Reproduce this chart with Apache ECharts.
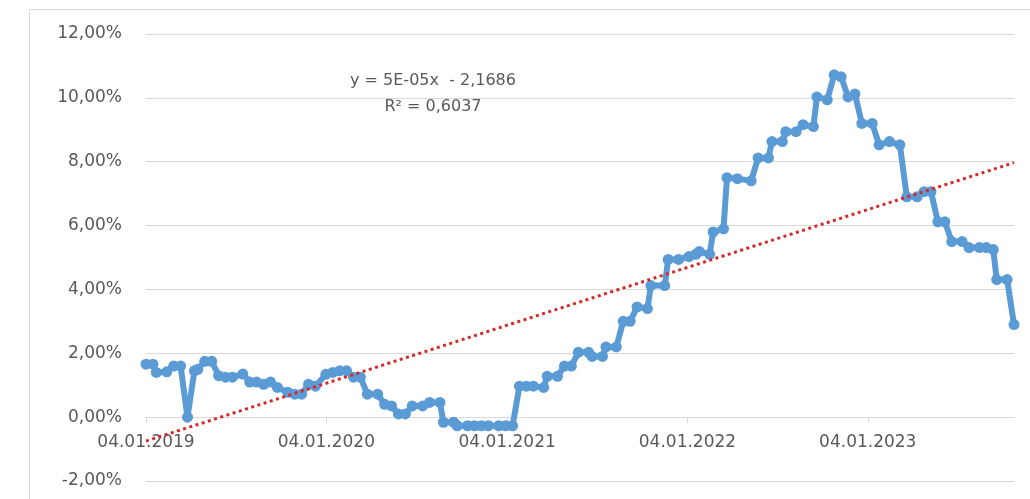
<!DOCTYPE html>
<html>
<head>
<meta charset="utf-8">
<script src="https://cdn.jsdelivr.net/npm/echarts@6/dist/echarts.min.js"></script>
<style>
  html, body { margin: 0; padding: 0; background: #fff; }
  #chart { width: 1030px; height: 499px; }
</style>
</head>
<body>
<div id="chart"></div>
<script>
// weekly observations (Fridays), values in %
const dates = [
  '2019-01-04', '2019-01-18', '2019-01-25', '2019-02-15', '2019-03-01', '2019-03-15', '2019-03-29', '2019-04-12',
  '2019-04-19', '2019-05-03', '2019-05-17', '2019-05-31', '2019-06-14', '2019-06-28', '2019-07-19', '2019-08-02',
  '2019-08-16', '2019-08-30', '2019-09-13', '2019-09-27', '2019-10-18', '2019-11-01', '2019-11-15', '2019-11-29',
  '2019-12-13', '2020-01-03', '2020-01-17', '2020-01-31', '2020-02-14', '2020-02-28', '2020-03-13', '2020-03-27',
  '2020-04-17', '2020-05-01', '2020-05-15', '2020-05-29', '2020-06-12', '2020-06-26', '2020-07-17', '2020-07-31',
  '2020-08-21', '2020-08-28', '2020-09-18', '2020-09-25', '2020-10-16', '2020-10-30', '2020-11-13', '2020-11-27',
  '2020-12-18', '2021-01-01', '2021-01-15', '2021-01-29', '2021-02-12', '2021-02-26', '2021-03-19', '2021-03-26',
  '2021-04-16', '2021-04-30', '2021-05-14', '2021-05-28', '2021-06-18', '2021-06-25', '2021-07-16', '2021-07-23',
  '2021-08-13', '2021-08-27', '2021-09-10', '2021-09-24', '2021-10-15', '2021-10-22', '2021-11-19', '2021-11-26',
  '2021-12-17', '2022-01-07', '2022-01-21', '2022-01-28', '2022-02-18', '2022-02-25', '2022-03-18', '2022-03-25',
  '2022-04-15', '2022-05-13', '2022-05-27', '2022-06-17', '2022-06-24', '2022-07-15', '2022-07-22', '2022-08-12',
  '2022-08-26', '2022-09-16', '2022-09-23', '2022-10-14', '2022-10-28', '2022-11-11', '2022-11-25', '2022-12-09',
  '2022-12-23', '2023-01-13', '2023-01-27', '2023-02-17', '2023-03-10', '2023-03-24', '2023-04-14', '2023-04-28',
  '2023-05-12', '2023-05-26', '2023-06-09', '2023-06-23', '2023-07-14', '2023-07-28', '2023-08-18', '2023-09-01',
  '2023-09-15', '2023-09-22', '2023-10-13', '2023-10-27'
];
const rates = [
  1.66, 1.66, 1.40, 1.42, 1.60, 1.60, 0.00, 1.45,
  1.50, 1.75, 1.75, 1.30, 1.25, 1.25, 1.35, 1.10,
  1.10, 1.03, 1.10, 0.93, 0.78, 0.72, 0.72, 1.03,
  0.97, 1.34, 1.40, 1.45, 1.45, 1.25, 1.25, 0.72,
  0.72, 0.40, 0.35, 0.10, 0.10, 0.35, 0.35, 0.46,
  0.46, -0.16, -0.16, -0.27, -0.27, -0.27, -0.27, -0.27,
  -0.27, -0.27, -0.27, 0.97, 0.97, 0.97, 0.93, 1.28,
  1.28, 1.60, 1.60, 2.03, 2.03, 1.90, 1.90, 2.20,
  2.20, 3.00, 3.00, 3.45, 3.40, 4.12, 4.12, 4.94,
  4.94, 5.03, 5.10, 5.19, 5.10, 5.80, 5.90, 7.50,
  7.47, 7.40, 8.12, 8.12, 8.63, 8.63, 8.94, 8.94,
  9.16, 9.10, 10.03, 9.94, 10.72, 10.66, 10.03, 10.12,
  9.20, 9.20, 8.53, 8.63, 8.53, 6.90, 6.90, 7.06,
  7.06, 6.12, 6.12, 5.50, 5.50, 5.31, 5.31, 5.31,
  5.25, 4.31, 4.31, 2.90
];
// linear trend line, read at first and last date
const trendDates = ['2019-01-04', '2023-10-27'];
const trendValues = [-0.75, 7.97];
const tickDates = ['2019-01-04', '2020-01-04', '2021-01-04', '2022-01-04', '2023-01-04'];
const tickLabels = ['04.01.2019', '04.01.2020', '04.01.2021', '04.01.2022', '04.01.2023'];
const equation = ['y = 5E-05x  - 2,1686', 'R\u00b2 = 0,6037'];

function ts(s) {
  const p = s.split('-');
  return Date.UTC(+p[0], +p[1] - 1, +p[2]);
}
const tickValues = tickDates.map(ts);
const lineData = dates.map((d, i) => [ts(d), rates[i]]);
const trendData = trendDates.map((d, i) => [ts(d), trendValues[i]]);

const gridTop = 34, gridBottom = 18;
const yMin = -2, yMax = 12;
// x axis sits on the 0% line: shift it up from the grid bottom
const plotH = 499 - gridTop - gridBottom;
const zeroOffset = -plotH * (0 - yMin) / (yMax - yMin);

const chart = echarts.init(document.getElementById('chart'));
chart.setOption({
  animation: false,
  textStyle: { fontFamily: 'DejaVu Sans' },
  grid: { left: 146, right: 16, top: gridTop, bottom: gridBottom, outerBoundsMode: 'none' },
  graphic: [
    {
      type: 'rect',
      shape: { x: 29.5, y: 9.5, width: 1020, height: 520 },
      style: { fill: 'none', stroke: '#d9d9d9', lineWidth: 1 },
      silent: true
    },
    {
      type: 'text', x: 433, y: 81,
      style: { text: equation[0], fill: '#595959', fontSize: 16, fontFamily: 'DejaVu Sans', align: 'center', verticalAlign: 'middle' }
    },
    {
      type: 'text', x: 433, y: 107,
      style: { text: equation[1], fill: '#595959', fontSize: 16, fontFamily: 'DejaVu Sans', align: 'center', verticalAlign: 'middle' }
    }
  ],
  xAxis: {
    type: 'value',
    position: 'bottom',
    offset: zeroOffset,
    min: ts(dates[0]),
    max: ts(dates[dates.length - 1]),
    axisLine: { onZero: false, lineStyle: { color: '#d9d9d9', width: 1 } },
    axisTick: { show: true, customValues: tickValues, length: 6, lineStyle: { color: '#d9d9d9' } },
    axisLabel: {
      customValues: tickValues,
      margin: 17,
      color: '#595959',
      fontSize: 17,
      formatter: function (v) {
        const i = tickValues.indexOf(v);
        return i >= 0 ? tickLabels[i] : '';
      }
    },
    splitLine: { show: false }
  },
  yAxis: {
    type: 'value',
    min: yMin,
    max: yMax,
    interval: 2,
    axisLine: { show: false },
    axisTick: { show: false },
    axisLabel: {
      margin: 24,
      color: '#595959',
      fontSize: 17,
      formatter: v => v.toFixed(2).replace('.', ',') + '%'
    },
    splitLine: { lineStyle: { color: '#d9d9d9', width: 1 } }
  },
  series: [
    {
      name: 'rate',
      type: 'line',
      data: lineData,
      symbol: 'circle',
      symbolSize: 11,
      lineStyle: { color: '#5b9bd5', width: 6 },
      itemStyle: { color: '#5b9bd5' },
      z: 2
    },
    {
      name: 'trend',
      type: 'line',
      data: trendData,
      symbol: 'none',
      lineStyle: { color: '#d42a2a', width: 3, type: [3, 3.5], cap: 'butt' },
      z: 3
    }
  ]
});
</script>
</body>
</html>
